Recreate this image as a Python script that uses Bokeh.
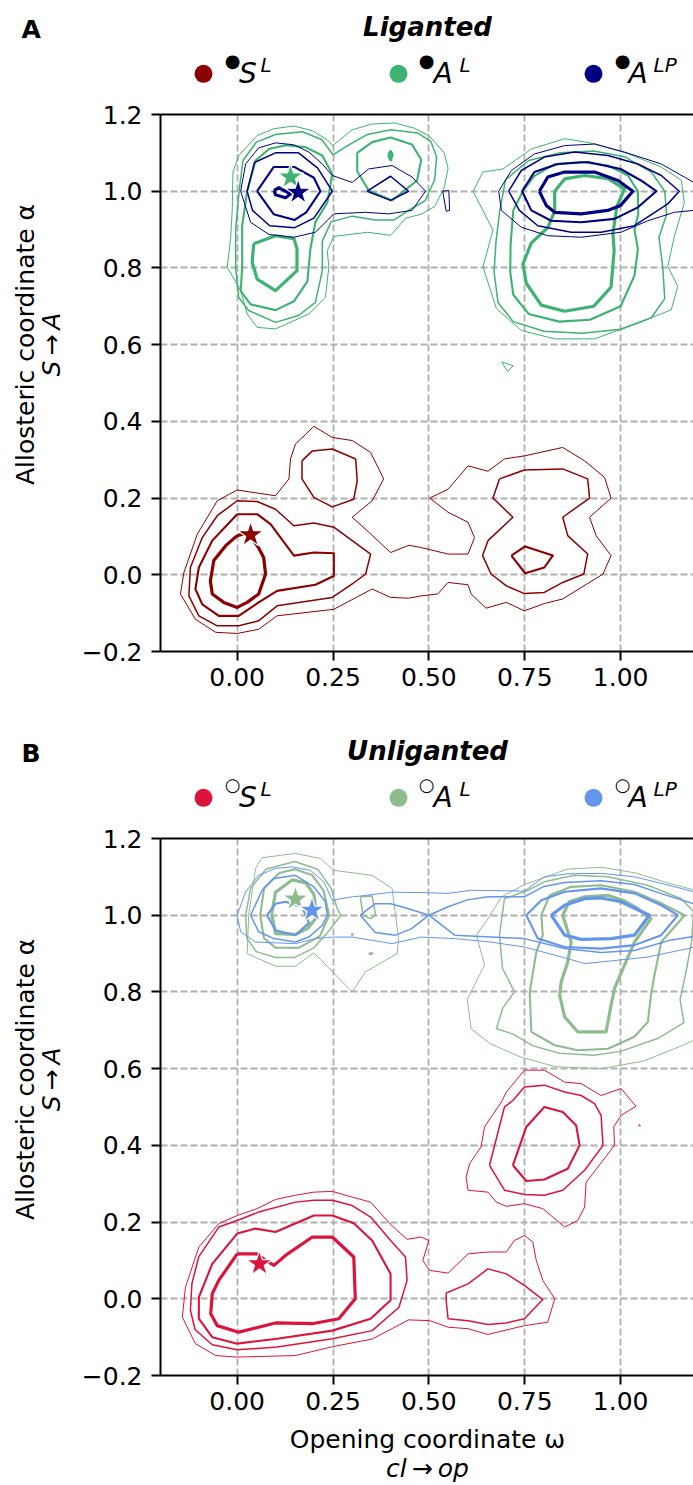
from bokeh.plotting import figure
from bokeh.models import Label, FixedTicker, LinearAxis, Range1d
from bokeh.layouts import column, row
from bokeh.embed import file_html
from bokeh.resources import INLINE

# ---------------- data ----------------
X_TICKS = [0.0, 0.25, 0.5, 0.75, 1.0]
X_TICK_LABELS = ["0.00", "0.25", "0.50", "0.75", "1.00"]
Y_TICKS = [-0.2, 0.0, 0.2, 0.4, 0.6, 0.8, 1.0, 1.2]
Y_TICK_LABELS = ["\u22120.2", "0.0", "0.2", "0.4", "0.6", "0.8", "1.0", "1.2"]
LEVEL_WIDTHS = [1.0, 1.5, 2.1, 3.2]

COLORS_LIG = ["#8b0000", "#3cb371", "#000080"]
COLORS_UNL = ["#dc143c", "#8fbc8f", "#6495ed"]
LEGEND_MAIN = ["S", "A", "A"]
LEGEND_SUP = ["L", "L", "LP"]

# most probable structures (stars)
STAR_LIG_X = [0.035, 0.139, 0.159]
STAR_LIG_Y = [0.104, 1.037, 0.997]
STAR_UNL_X = [0.058, 0.152, 0.195]
STAR_UNL_Y = [0.091, 1.042, 1.013]

# contour lines: (level index, [(omega, alpha), ...])
lig_S = [
    (0, [(0.0,0.221),(0.1,0.206),(0.135,0.25),(0.139,0.302),(0.152,0.341),(0.2,0.387),(0.248,0.358),(0.3,0.35),
         (0.348,0.319),(0.382,0.25),(0.352,0.193),(0.3,0.15),(0.352,0.103),(0.4,0.058),(0.448,0.077),(0.48,0.071),
         (0.55,0.054),(0.602,0.054),(0.619,0.097),(0.602,0.137),(0.55,0.163),(0.502,0.2),(0.55,0.223),(0.602,0.284),
         (0.654,0.27),(0.697,0.302),(0.749,0.31),(0.849,0.332),(0.906,0.297),(0.958,0.254),(0.975,0.2),(0.919,0.15),
         (0.936,0.102),(0.975,0.05),(0.954,0.002),(0.849,-0.063),(0.801,-0.075),(0.749,-0.094),(0.702,-0.072),
         (0.649,-0.087),(0.61,-0.05),(0.602,-0.026),(0.55,-0.02),(0.523,-0.05),(0.48,-0.055),(0.447,-0.061),
         (0.4,-0.059),(0.352,-0.037),(0.252,-0.09),(0.104,-0.107),(0.056,-0.142),(0.0,-0.153),(-0.056,-0.15),
         (-0.109,-0.116),(-0.148,-0.05),(-0.139,0.006),(-0.104,0.106),(-0.052,0.193)]),
    (1, [(0.169,0.297),(0.196,0.323),(0.248,0.328),(0.309,0.302),(0.313,0.245),(0.304,0.197),(0.248,0.177),
         (0.2,0.202),(0.169,0.25)]),
    (1, [(0.0,0.193),(0.052,0.191),(0.1,0.171),(0.148,0.128),(0.2,0.135),(0.252,0.124),(0.348,0.054),(0.335,0.002),
         (0.3,-0.024),(0.248,-0.059),(0.104,-0.081),(0.056,-0.12),(0.004,-0.133),(-0.052,-0.133),(-0.1,-0.107),
         (-0.126,-0.055),(-0.122,0.019),(-0.091,0.097),(-0.052,0.154)]),
    (1, [(0.684,0.25),(0.749,0.273),(0.849,0.276),(0.914,0.25),(0.919,0.2),(0.849,0.15),(0.862,0.102),(0.914,0.054),
         (0.904,0.002),(0.849,-0.02),(0.801,-0.046),(0.749,-0.049),(0.702,-0.029),(0.662,0.002),(0.64,0.05),
         (0.654,0.089),(0.719,0.15),(0.667,0.2)]),
    (2, [(0.0,0.158),(0.052,0.158),(0.087,0.132),(0.148,0.05),(0.2,0.058),(0.252,0.056),(0.252,-0.003),
         (0.204,-0.026),(0.104,-0.042),(0.056,-0.072),(0.004,-0.107),(-0.048,-0.107),(-0.091,-0.077),
         (-0.109,-0.037),(-0.1,0.019),(-0.065,0.089)]),
    (2, [(0.715,0.05),(0.751,0.074),(0.823,0.05),(0.801,0.019),(0.751,0.004)]),
    (3, [(0.0,0.102),(0.02,0.107),(0.035,0.1),(0.056,0.07),(0.069,0.045),(0.074,0.002),(0.056,-0.05),
         (0.026,-0.072),(0.0,-0.085),(-0.035,-0.072),(-0.065,-0.05),(-0.07,-0.016),(-0.061,0.037),(-0.03,0.076)]),
]

lig_A = [
    (0, [(-0.011,1.05),(0.004,1.093),(0.052,1.145),(0.096,1.163),(0.148,1.17),(0.195,1.158),(0.235,1.134),
         (0.249,1.119),(0.3,1.16),(0.35,1.175),(0.41,1.178),(0.46,1.165),(0.5,1.145),(0.54,1.1),(0.55,1.06),
         (0.54,1.01),(0.515,0.96),(0.48,0.94),(0.44,0.93),(0.4,0.885),(0.34,0.893),(0.252,0.882),(0.235,0.845),
         (0.239,0.802),(0.23,0.723),(0.187,0.68),(0.1,0.641),(0.052,0.645),(0.026,0.68),(0.009,0.741),
         (-0.026,0.802),(-0.017,0.88),(-0.013,0.95)]),
    (1, [(-0.004,0.8),(0.004,0.723),(0.03,0.689),(0.1,0.658),(0.16,0.676),(0.204,0.71),(0.222,0.793),(0.222,0.87),
         (0.245,0.92),(0.3,0.935),(0.36,0.925),(0.41,0.925),(0.455,0.955),(0.49,0.975),(0.515,1.03),(0.52,1.09),
         (0.505,1.13),(0.47,1.152),(0.4,1.16),(0.34,1.148),(0.29,1.12),(0.25,1.095),(0.22,1.135),(0.17,1.155),
         (0.1,1.148),(0.05,1.128),(0.015,1.08),(0.005,1.0),(-0.004,0.9)]),
    (2, [(0.013,0.8),(0.009,0.74),(0.035,0.705),(0.1,0.69),(0.148,0.713),(0.183,0.765),(0.191,0.85),(0.204,0.92),
         (0.235,0.97),(0.248,1.045),(0.222,1.093),(0.178,1.115),(0.126,1.12),(0.083,1.11),(0.048,1.08),
         (0.026,1.0),(0.013,0.91)]),
    (2, [(0.313,1.1),(0.352,1.128),(0.4,1.14),(0.456,1.122),(0.48,1.082),(0.469,1.028),(0.404,0.976),
         (0.343,1.002),(0.313,1.052)]),
    (3, [(0.043,0.863),(0.1,0.884),(0.148,0.876),(0.156,0.85),(0.156,0.793),(0.1,0.741),(0.052,0.771),
         (0.039,0.815)]),
    (3, [(0.395,1.095),(0.4,1.103),(0.404,1.095),(0.4,1.082)]),
    (0, [(0.615,1.0),(0.641,1.05),(0.693,1.058),(0.767,1.11),(0.854,1.137),(0.932,1.124),(1.019,1.098),
         (1.106,1.063),(1.158,1.029),(1.166,0.97),(1.14,0.882),(1.123,0.804),(1.149,0.752),(1.132,0.691),
         (1.045,0.656),(0.932,0.615),(0.828,0.615),(0.741,0.637),(0.676,0.694),(0.641,0.803),(0.667,0.899)]),
    (1, [(0.685,0.95),(0.7,1.03),(0.76,1.08),(0.84,1.1),(0.93,1.105),(1.01,1.09),(1.08,1.05),(1.115,1.0),
         (1.12,0.94),(1.1,0.88),(1.11,0.8),(1.115,0.72),(1.08,0.67),(1.0,0.64),(0.9,0.63),(0.8,0.635),
         (0.72,0.66),(0.68,0.71),(0.67,0.79),(0.675,0.87)]),
    (2, [(0.72,0.95),(0.745,1.0),(0.775,1.04),(0.827,1.07),(0.897,1.076),(0.967,1.067),(1.019,1.041),
         (1.045,1.0),(1.046,0.94),(1.036,0.9),(1.045,0.85),(1.036,0.78),(1.0,0.7),(0.92,0.665),(0.84,0.66),
         (0.76,0.68),(0.72,0.73),(0.712,0.79),(0.713,0.86)]),
    (3, [(0.828,1.0),(0.854,1.032),(0.906,1.041),(0.967,1.033),(1.01,1.006),(0.99,0.96),(0.98,0.89),
         (0.983,0.845),(0.975,0.75),(0.93,0.7),(0.854,0.687),(0.793,0.703),(0.754,0.76),(0.745,0.81),
         (0.767,0.865),(0.81,0.905),(0.828,0.948)]),
    (0, [(0.69,0.555),(0.72,0.545),(0.705,0.53)]),
]

lig_ALP = [
    (0, [(0.009,1.0),(0.022,1.071),(0.056,1.113),(0.1,1.126),(0.148,1.121),(0.187,1.102),(0.222,1.071),
         (0.248,1.041),(0.3,1.023),(0.343,1.058),(0.404,1.067),(0.456,1.037),(0.491,1.0),(0.456,0.95),
         (0.395,0.941),(0.334,0.945),(0.252,0.941),(0.204,0.893),(0.148,0.88),(0.083,0.887),(0.035,0.919)]),
    (0, [(0.536,1.0),(0.552,1.002),(0.554,0.95),(0.545,0.948)]),
    (1, [(0.026,1.0),(0.045,1.075),(0.1,1.1),(0.16,1.1),(0.21,1.06),(0.248,1.0),(0.2,0.93),(0.15,0.905),
         (0.085,0.91),(0.04,0.95)]),
    (1, [(0.339,1.0),(0.4,1.039),(0.447,1.0),(0.4,0.976)]),
    (2, [(0.052,1.0),(0.095,1.063),(0.15,1.063),(0.2,1.035),(0.217,1.0),(0.18,0.945),(0.15,0.925),(0.095,0.94)]),
    (3, [(0.096,1.002),(0.109,1.009),(0.139,0.993),(0.126,0.983),(0.1,0.991)]),
    (0, [(0.682,1.0),(0.715,1.054),(0.775,1.097),(0.854,1.119),(0.932,1.123),(1.01,1.102),(1.106,1.071),
         (1.166,1.037),(1.23,1.0),(1.23,0.95),(1.19,0.95),(1.14,0.945),(1.071,0.923),(1.001,0.893),
         (0.897,0.88),(0.81,0.884),(0.741,0.906),(0.689,0.95)]),
    (1, [(0.708,1.0),(0.741,1.054),(0.801,1.089),(0.88,1.102),(0.967,1.093),(1.045,1.071),(1.106,1.041),
         (1.153,1.0),(1.123,0.967),(1.036,0.91),(0.949,0.893),(0.871,0.893),(0.784,0.91),(0.736,0.95)]),
    (2, [(0.743,1.0),(0.775,1.05),(0.836,1.071),(0.914,1.076),(1.0,1.058),(1.053,1.028),(1.093,1.0),
         (1.045,0.958),(0.984,0.928),(0.897,0.919),(0.819,0.923),(0.767,0.95)]),
    (3, [(0.788,1.0),(0.81,1.037),(0.854,1.05),(0.932,1.05),(0.993,1.028),(1.032,1.0),(1.0,0.963),
         (0.966,0.95),(0.897,0.941),(0.828,0.945),(0.806,0.963)]),
]

unl_S = [
    (0, [(-0.143,-0.048),(-0.135,0.03),(-0.1,0.135),(-0.048,0.196),(0.0,0.217),(0.052,0.235),(0.1,0.259),
         (0.152,0.27),(0.2,0.278),(0.248,0.28),(0.3,0.265),(0.348,0.252),(0.4,0.194),(0.443,0.155),(0.479,0.161),
         (0.5,0.152),(0.484,0.1),(0.502,0.074),(0.55,0.067),(0.602,0.117),(0.654,0.122),(0.702,0.122),
         (0.723,0.152),(0.749,0.165),(0.771,0.148),(0.78,0.1),(0.797,0.048),(0.828,0.0),(0.81,-0.061),
         (0.749,-0.07),(0.654,-0.093),(0.602,-0.078),(0.55,-0.074),(0.502,-0.057),(0.447,-0.055),(0.352,-0.105),
         (0.248,-0.125),(0.152,-0.148),(0.0,-0.152),(-0.056,-0.148),(-0.109,-0.117)]),
    (1, [(-0.1,0.11),(-0.048,0.187),(0.0,0.204),(0.056,0.226),(0.152,0.252),(0.2,0.257),(0.248,0.257),
         (0.3,0.243),(0.348,0.213),(0.4,0.152),(0.439,0.109),(0.443,0.048),(0.422,-0.022),(0.352,-0.083),
         (0.248,-0.104),(0.104,-0.126),(0.0,-0.133),(-0.065,-0.12),(-0.11,-0.08),(-0.122,-0.03),(-0.118,0.04)]),
    (1, [(0.545,0.015),(0.602,0.039),(0.654,0.078),(0.702,0.065),(0.749,0.035),(0.797,-0.002),(0.749,-0.052),
         (0.702,-0.063),(0.654,-0.067),(0.602,-0.057),(0.55,-0.052),(0.545,-0.004)]),
    (2, [(0.0,0.17),(0.048,0.183),(0.1,0.174),(0.2,0.217),(0.248,0.217),(0.304,0.197),(0.352,0.152),(0.4,0.065),
         (0.4,-0.004),(0.348,-0.052),(0.248,-0.083),(0.104,-0.104),(0.0,-0.117),(-0.065,-0.1),(-0.1,-0.052),
         (-0.1,0.004),(-0.065,0.091)]),
    (3, [(0.0,0.117),(0.052,0.117),(0.074,0.1),(0.096,0.087),(0.126,0.113),(0.196,0.161),(0.248,0.161),
         (0.304,0.109),(0.308,0.0),(0.265,-0.052),(0.195,-0.065),(0.1,-0.063),(0.004,-0.087),(-0.052,-0.07),
         (-0.069,-0.039),(-0.065,0.013),(-0.048,0.048)]),
    (0, [(0.702,0.539),(0.749,0.596),(0.801,0.596),(0.854,0.565),(0.897,0.561),(0.949,0.53),(1.001,0.548),
         (1.04,0.502),(1.001,0.478),(0.982,0.448),(0.984,0.4),(0.91,0.304),(0.906,0.239),(0.888,0.204),
         (0.854,0.187),(0.797,0.235),(0.749,0.248),(0.702,0.241),(0.676,0.252),(0.654,0.278),(0.602,0.283),
         (0.597,0.317),(0.606,0.352),(0.636,0.396),(0.645,0.448),(0.689,0.513)]),
    (1, [(0.658,0.348),(0.697,0.5),(0.719,0.517),(0.749,0.552),(0.801,0.557),(0.854,0.539),(0.897,0.53),
         (0.932,0.509),(0.949,0.478),(0.954,0.4),(0.906,0.335),(0.849,0.283),(0.801,0.27),(0.749,0.272),
         (0.697,0.283)]),
    (2, [(0.719,0.348),(0.754,0.448),(0.801,0.5),(0.849,0.487),(0.884,0.452),(0.893,0.4),(0.862,0.339),
         (0.801,0.311),(0.754,0.307)]),
    (0, [(1.047,0.452),(1.05,0.454),(1.051,0.45)]),
]

unl_A = [
    (0, [(0.026,0.9),(0.1,0.867),(0.152,0.867),(0.2,0.902),(0.3,0.8),(0.334,0.852),(0.417,0.9),(0.421,0.939),
         (0.404,1.07),(0.352,1.104),(0.252,1.117),(0.217,1.148),(0.152,1.161),(0.065,1.15),(0.048,1.122),
         (0.03,1.0)]),
    (1, [(0.022,1.0),(0.035,1.07),(0.075,1.12),(0.15,1.14),(0.21,1.12),(0.245,1.07),(0.26,1.02),(0.27,1.0),
         (0.24,0.96),(0.2,0.915),(0.15,0.89),(0.1,0.89),(0.05,0.905),(0.025,0.94)]),
    (1, [(0.321,1.048),(0.352,1.05),(0.361,1.0),(0.348,0.991),(0.328,1.0)]),
    (1, [(0.297,0.951),(0.303,0.951),(0.3,0.948)]),
    (2, [(0.343,0.901),(0.353,0.901),(0.348,0.898)]),
    (2, [(0.06,1.0),(0.07,1.07),(0.11,1.11),(0.15,1.12),(0.195,1.105),(0.225,1.065),(0.24,1.0),(0.215,0.945),
         (0.16,0.915),(0.1,0.915),(0.07,0.94)]),
    (3, [(0.09,1.004),(0.1,1.06),(0.143,1.092),(0.178,1.085),(0.2,1.055),(0.208,0.995),(0.183,0.965),
         (0.152,0.95),(0.1,0.952)]),
    (0, [(0.624,0.948),(0.654,0.991),(0.69,1.048),(0.75,1.08),(0.86,1.12),(0.95,1.125),(1.04,1.11),(1.12,1.085),
         (1.25,1.05),(1.25,0.7),(1.16,0.66),(1.06,0.62),(0.95,0.6),(0.83,0.605),(0.74,0.63),(0.66,0.665),
         (0.61,0.704),(0.6,0.78),(0.645,0.87)]),
    (1, [(0.684,0.948),(0.697,1.043),(0.758,1.065),(0.801,1.087),(0.879,1.104),(0.966,1.1),(1.071,1.078),
         (1.158,1.043),(1.19,1.01),(1.185,0.93),(1.17,0.85),(1.155,0.78),(1.165,0.72),(1.1,0.68),(1.0,0.645),
         (0.93,0.635),(0.84,0.64),(0.77,0.66),(0.72,0.69),(0.676,0.704),(0.692,0.757),(0.723,0.8),(0.692,0.861)]),
    (2, [(0.793,1.0),(0.815,1.052),(0.871,1.074),(0.949,1.078),(1.036,1.061),(1.106,1.031),(1.167,1.0),
         (1.106,0.93),(1.088,0.843),(1.079,0.791),(1.071,0.722),(1.036,0.683),(0.967,0.652),(0.888,0.648),
         (0.828,0.661),(0.767,0.696),(0.763,0.8),(0.78,0.904),(0.797,0.948)]),
    (3, [(0.849,1.0),(0.866,1.035),(0.906,1.048),(0.966,1.052),(1.006,1.039),(1.045,1.017),(1.079,0.991),
         (1.036,0.93),(1.01,0.87),(0.984,0.809),(0.975,0.765),(0.962,0.696),(0.888,0.696),(0.854,0.735),
         (0.841,0.791),(0.845,0.826),(0.862,0.878),(0.871,0.93)]),
]

unl_ALP = [
    (0, [(0.0,1.0),(0.022,1.061),(0.056,1.104),(0.1,1.122),(0.143,1.126),(0.191,1.117),(0.226,1.087),
         (0.248,1.039),(0.3,1.048),(0.321,1.05),(0.404,1.06),(0.48,1.059),(0.55,1.057),(0.61,1.065),
         (0.749,1.063),(0.801,1.1),(0.862,1.108),(0.949,1.109),(1.036,1.1),(1.106,1.083),(1.192,1.061),
         (1.25,1.05),(1.25,0.92),(1.192,0.917),(1.175,0.913),(1.071,0.891),(0.967,0.88),(0.906,0.874),
         (0.854,0.889),(0.749,0.917),(0.662,0.93),(0.567,0.939),(0.48,0.943),(0.404,0.926),(0.3,0.943),
         (0.248,0.943),(0.204,0.939),(0.152,0.926),(0.048,0.93),(0.009,0.957)]),
    (1, [(0.321,1.0),(0.36,1.03),(0.4,1.03),(0.447,1.017),(0.5,1.0),(0.455,0.965),(0.413,0.948),(0.36,0.955)]),
    (1, [(0.5,1.0),(0.55,1.022),(0.6,1.04),(0.654,1.048),(0.749,1.048),(0.8,1.075),(0.854,1.085),(0.949,1.09),
         (1.036,1.08),(1.11,1.055),(1.19,1.03),(1.25,1.02),(1.25,0.94),(1.19,0.945),(1.13,0.935),(1.036,0.908),
         (0.949,0.903),(0.854,0.913),(0.749,0.939),(0.662,0.943),(0.567,0.948)]),
    (1, [(0.035,1.0),(0.065,1.065),(0.096,1.096),(0.152,1.104),(0.2,1.074),(0.23,1.035),(0.235,1.0),
         (0.222,0.974),(0.187,0.943),(0.152,0.93),(0.096,0.939),(0.056,0.957)]),
    (2, [(0.078,1.0),(0.1,1.03),(0.126,1.035),(0.17,1.02),(0.187,0.98),(0.152,0.948),(0.1,0.961)]),
    (2, [(0.754,1.0),(0.793,1.039),(0.854,1.061),(0.949,1.07),(1.036,1.057),(1.106,1.026),(1.149,1.0),
         (1.106,0.948),(1.036,0.922),(0.949,0.913),(0.854,0.917),(0.784,0.939)]),
    (3, [(0.819,1.0),(0.854,1.026),(0.906,1.043),(0.949,1.045),(1.001,1.035),(1.075,1.0),(1.036,0.948),
         (0.975,0.939),(0.897,0.937),(0.854,0.948)]),
]

# ---------------- drawing ----------------
FONT = "DejaVu Sans"
W = 693
MID = 0.346  # distance (in em) from the alphabetic baseline up to the middle of the text box


def add_text(p, x, y, text, size, style="normal", color="black", align="left", rotated=False):
    """Place text whose alphabetic baseline is at (x, y) (pixel canvas, y down)."""
    if rotated:
        x = x - MID * size
        angle = 1.5707963
    else:
        y = y - MID * size
        angle = 0.0
    p.add_layout(Label(x=x, y=y, text=text, text_font=FONT, text_font_size=f"{size}px",
                       text_font_style=style, text_color=color, text_align=align,
                       text_baseline="middle", angle=angle))


def pixel_canvas(w, h):
    """A figure whose frame is the whole canvas, with pixel coordinates (y down)."""
    c = figure(width=w, height=h, x_range=Range1d(0, w), y_range=Range1d(h, 0),
               x_axis_type=None, y_axis_type=None, min_border=0, toolbar_location=None,
               output_backend="svg", background_fill_color="white", border_fill_color="white")
    c.outline_line_color = None
    c.grid.visible = False
    return c


def header(letter, title, mark, colors):
    h = pixel_canvas(W, 96)
    add_text(h, 21, 37.3, letter, 25, "bold")
    add_text(h, 427, 35, title, 26, "bold italic", align="center")
    marker_x = [203, 398, 593]
    h.scatter(marker_x, [73.3] * 3, size=18, fill_color=colors, line_color=None)
    mark_x = [232, 426, 622]
    main_x = [238.5, 433, 628]
    sup_x = [260, 459, 653]
    for i in range(3):
        h.add_layout(Label(x=mark_x[i], y=59.5, text=mark, text_font=FONT, text_font_size="18px",
                           text_color="black", text_align="center", text_baseline="middle"))
        add_text(h, main_x[i], 83, LEGEND_MAIN[i], 28, "italic")
        add_text(h, sup_x[i], 71.7, LEGEND_SUP[i], 20, "italic")
    return h


def ylabel_canvas(h_px, center_y):
    c = pixel_canvas(70, h_px)
    add_text(c, 33.3, center_y, "Allosteric coordinate \u03b1", 25, align="center", rotated=True)
    add_text(c, 60, center_y, "S\u2009\u2192\u2009A", 25, "italic", align="center", rotated=True)
    return c


def panel(height, bottom, colors, contour_sets, star_x, star_y):
    p = figure(width=623, height=height, x_range=Range1d(-0.2, 1.19), y_range=Range1d(-0.2, 1.2),
               output_backend="svg", toolbar_location=None, min_border_left=90, min_border_right=0,
               min_border_top=18, min_border_bottom=bottom, background_fill_color="white",
               border_fill_color="white")
    p.outline_line_color = None
    for ax in (p.xaxis[0], p.yaxis[0]):
        ax.axis_line_width = 2
        ax.axis_line_color = "black"
        ax.major_tick_line_width = 2
        ax.major_tick_out = 9
        ax.major_tick_in = 0
        ax.minor_tick_line_color = None
        ax.major_label_text_font = FONT
        ax.major_label_text_font_size = "25px"
        ax.major_label_text_color = "black"
    p.xaxis[0].ticker = FixedTicker(ticks=X_TICKS)
    p.xaxis[0].major_label_overrides = dict(zip(X_TICKS, X_TICK_LABELS))
    p.xaxis[0].major_label_standoff = 7
    p.yaxis[0].ticker = FixedTicker(ticks=Y_TICKS)
    p.yaxis[0].major_label_overrides = dict(zip(Y_TICKS, Y_TICK_LABELS))
    p.yaxis[0].major_label_standoff = 9
    top_axis = LinearAxis(ticker=FixedTicker(ticks=[]), major_label_text_font_size="0px",
                          major_tick_out=0, major_tick_in=0, major_label_standoff=0,
                          major_tick_line_color=None, minor_tick_line_color=None,
                          axis_line_color="black", axis_line_width=2)
    p.add_layout(top_axis, "above")

    for g in (p.xgrid[0], p.ygrid[0]):
        g.grid_line_color = "#b0b0b0"
        g.grid_line_width = 1.8
        g.grid_line_dash = "7 3"
    p.xgrid[0].ticker = FixedTicker(ticks=X_TICKS)
    p.ygrid[0].ticker = FixedTicker(ticks=Y_TICKS)

    for color, contours in zip(colors, contour_sets):
        for level, pts in contours:
            xs = [q[0] for q in pts] + [pts[0][0]]
            ys = [q[1] for q in pts] + [pts[0][1]]
            p.line(xs, ys, line_color=color, line_width=LEVEL_WIDTHS[level], line_join="round")

    p.scatter(star_x, star_y, marker="star", size=27, fill_color=colors, line_color="white",
              line_width=1.2)
    return p


hA = header("A", "Liganted", "\u25cf", COLORS_LIG)
pA = panel(628, 73, COLORS_LIG, [lig_S, lig_A, lig_ALP], STAR_LIG_X, STAR_LIG_Y)
yA = ylabel_canvas(628, 365 - 96)

hB = header("B", "Unliganted", "\u25cb", COLORS_UNL)
pB = panel(601, 46, COLORS_UNL, [unl_S, unl_A, unl_ALP], STAR_UNL_X, STAR_UNL_Y)
yB = ylabel_canvas(601, 1089.5 - 820)

XL_TOP = 1421
xl = pixel_canvas(W, 1485 - XL_TOP)
add_text(xl, 427, 1448 - XL_TOP, "Opening coordinate \u03c9", 25, align="center")
add_text(xl, 427, 1477 - XL_TOP, "cl\u2009\u2192\u2009op", 25, "italic", align="center")

layout = column(hA, row(yA, pA, spacing=0), hB, row(yB, pB, spacing=0), xl, spacing=0)
open("out.html", "w").write(file_html(layout, INLINE))
